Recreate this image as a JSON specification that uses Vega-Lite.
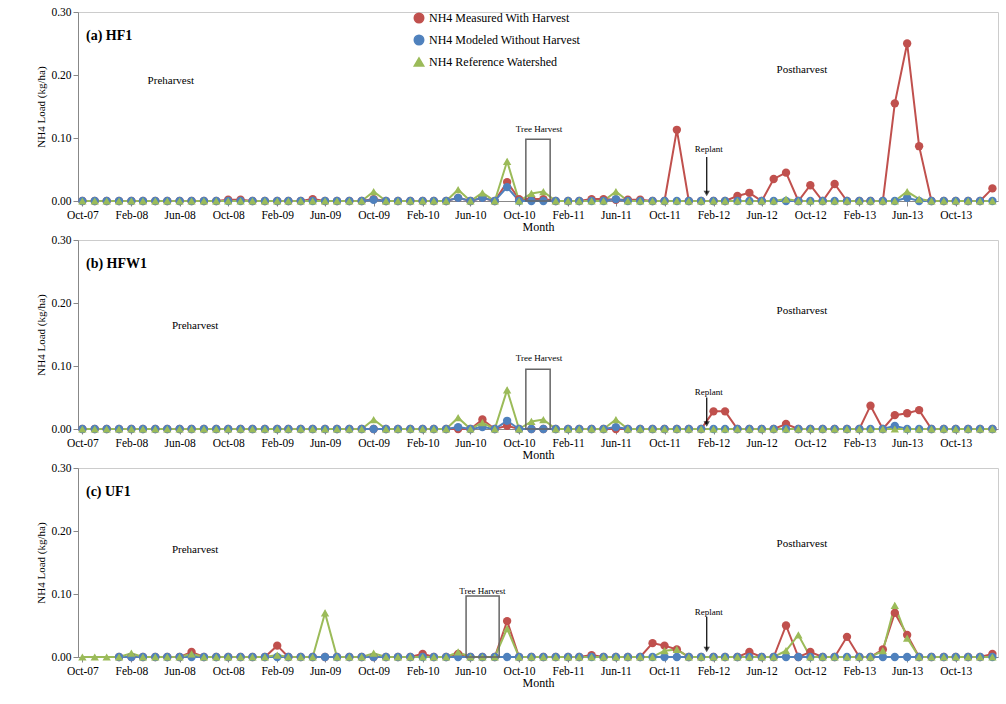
{"$schema":"https://vega.github.io/schema/vega-lite/v6.json","background":"white","padding":{"left":35,"top":5,"right":0,"bottom":0},"spacing":0,
"config":{"font":"Liberation Serif","axis":{"grid":false,"labelFont":"Liberation Serif","titleFont":"Liberation Serif","labelFontSize":11.5,"titleFontSize":12,"titleFontWeight":"normal","domainColor":"#888","tickColor":"#888","labelColor":"#000"},"view":{"stroke":"#ccc"},"legend":{"labelFont":"Liberation Serif","labelFontSize":12}},
"datasets":{
"a":[{"d":"2007-10","m":0,"n":0,"r":0},{"d":"2007-11","m":0,"n":0,"r":0},{"d":"2007-12","m":0,"n":0,"r":0},{"d":"2008-01","m":0,"n":0,"r":0},{"d":"2008-02","m":0,"n":0,"r":0},{"d":"2008-03","m":0,"n":0,"r":0},{"d":"2008-04","m":0,"n":0,"r":0},{"d":"2008-05","m":0,"n":0,"r":0},{"d":"2008-06","m":0,"n":0,"r":0},{"d":"2008-07","m":0,"n":0,"r":0},{"d":"2008-08","m":0,"n":0,"r":0},{"d":"2008-09","m":0,"n":0,"r":0},{"d":"2008-10","m":0.002,"n":0,"r":0},{"d":"2008-11","m":0.002,"n":0,"r":0},{"d":"2008-12","m":0,"n":0,"r":0},{"d":"2009-01","m":0,"n":0,"r":0},{"d":"2009-02","m":0,"n":0,"r":0},{"d":"2009-03","m":0,"n":0,"r":0},{"d":"2009-04","m":0,"n":0,"r":0},{"d":"2009-05","m":0.003,"n":0,"r":0},{"d":"2009-06","m":0,"n":0,"r":0},{"d":"2009-07","m":0,"n":0,"r":0},{"d":"2009-08","m":0,"n":0,"r":0},{"d":"2009-09","m":0,"n":0,"r":0},{"d":"2009-10","m":0.003,"n":0.002,"r":0.015},{"d":"2009-11","m":0,"n":0,"r":0},{"d":"2009-12","m":0,"n":0,"r":0},{"d":"2010-01","m":0,"n":0,"r":0},{"d":"2010-02","m":0,"n":0,"r":0},{"d":"2010-03","m":0,"n":0,"r":0},{"d":"2010-04","m":0,"n":0,"r":0},{"d":"2010-05","m":0.005,"n":0.005,"r":0.018},{"d":"2010-06","m":0,"n":0,"r":0},{"d":"2010-07","m":0.005,"n":0.005,"r":0.013},{"d":"2010-08","m":0,"n":0,"r":0},{"d":"2010-09","m":0.03,"n":0.022,"r":0.063},{"d":"2010-10","m":0.003,"n":0,"r":0},{"d":"2010-11","m":0.003,"n":0,"r":0.012},{"d":"2010-12","m":0.003,"n":0,"r":0.015},{"d":"2011-01","m":0,"n":0,"r":0},{"d":"2011-02","m":0,"n":0,"r":0},{"d":"2011-03","m":0,"n":0,"r":0},{"d":"2011-04","m":0.003,"n":0,"r":0},{"d":"2011-05","m":0.003,"n":0,"r":0},{"d":"2011-06","m":0.002,"n":0.003,"r":0.015},{"d":"2011-07","m":0.002,"n":0,"r":0},{"d":"2011-08","m":0.002,"n":0,"r":0},{"d":"2011-09","m":0,"n":0,"r":0},{"d":"2011-10","m":0,"n":0,"r":0},{"d":"2011-11","m":0.113,"n":0,"r":0},{"d":"2011-12","m":0,"n":0,"r":0},{"d":"2012-01","m":0,"n":0,"r":0},{"d":"2012-02","m":0,"n":0,"r":0},{"d":"2012-03","m":0,"n":0,"r":0},{"d":"2012-04","m":0.008,"n":0,"r":0},{"d":"2012-05","m":0.013,"n":0,"r":0},{"d":"2012-06","m":0,"n":0,"r":0},{"d":"2012-07","m":0.035,"n":0,"r":0},{"d":"2012-08","m":0.045,"n":0,"r":0.003},{"d":"2012-09","m":0,"n":0,"r":0},{"d":"2012-10","m":0.025,"n":0,"r":0},{"d":"2012-11","m":0,"n":0,"r":0},{"d":"2012-12","m":0.027,"n":0,"r":0},{"d":"2013-01","m":0,"n":0,"r":0},{"d":"2013-02","m":0,"n":0,"r":0},{"d":"2013-03","m":0,"n":0,"r":0},{"d":"2013-04","m":0,"n":0,"r":0},{"d":"2013-05","m":0.155,"n":0,"r":0},{"d":"2013-06","m":0.25,"n":0.005,"r":0.015},{"d":"2013-07","m":0.087,"n":0,"r":0.003},{"d":"2013-08","m":0,"n":0,"r":0},{"d":"2013-09","m":0,"n":0,"r":0},{"d":"2013-10","m":0,"n":0,"r":0},{"d":"2013-11","m":0,"n":0,"r":0},{"d":"2013-12","m":0,"n":0,"r":0},{"d":"2014-01","m":0.02,"n":0,"r":0}],
"b":[{"d":"2007-10","m":0,"n":0,"r":0},{"d":"2007-11","m":0,"n":0,"r":0},{"d":"2007-12","m":0,"n":0,"r":0},{"d":"2008-01","m":0,"n":0,"r":0},{"d":"2008-02","m":0,"n":0,"r":0},{"d":"2008-03","m":0,"n":0,"r":0},{"d":"2008-04","m":0,"n":0,"r":0},{"d":"2008-05","m":0,"n":0,"r":0},{"d":"2008-06","m":0,"n":0,"r":0},{"d":"2008-07","m":0,"n":0,"r":0},{"d":"2008-08","m":0,"n":0,"r":0},{"d":"2008-09","m":0,"n":0,"r":0},{"d":"2008-10","m":0,"n":0,"r":0},{"d":"2008-11","m":0,"n":0,"r":0},{"d":"2008-12","m":0,"n":0,"r":0},{"d":"2009-01","m":0,"n":0,"r":0},{"d":"2009-02","m":0,"n":0,"r":0},{"d":"2009-03","m":0,"n":0,"r":0},{"d":"2009-04","m":0,"n":0,"r":0},{"d":"2009-05","m":0,"n":0,"r":0},{"d":"2009-06","m":0,"n":0,"r":0},{"d":"2009-07","m":0,"n":0,"r":0},{"d":"2009-08","m":0,"n":0,"r":0},{"d":"2009-09","m":0,"n":0,"r":0},{"d":"2009-10","m":0,"n":0,"r":0.015},{"d":"2009-11","m":0,"n":0,"r":0},{"d":"2009-12","m":0,"n":0,"r":0},{"d":"2010-01","m":0,"n":0,"r":0},{"d":"2010-02","m":0,"n":0,"r":0},{"d":"2010-03","m":0,"n":0,"r":0},{"d":"2010-04","m":0,"n":0,"r":0},{"d":"2010-05","m":0,"n":0.003,"r":0.018},{"d":"2010-06","m":0,"n":0,"r":0},{"d":"2010-07","m":0.015,"n":0.003,"r":0.01},{"d":"2010-08","m":0,"n":0,"r":0},{"d":"2010-09","m":0.005,"n":0.013,"r":0.062},{"d":"2010-10","m":0,"n":0,"r":0},{"d":"2010-11","m":0,"n":0,"r":0.012},{"d":"2010-12","m":0,"n":0,"r":0.015},{"d":"2011-01","m":0,"n":0,"r":0},{"d":"2011-02","m":0,"n":0,"r":0},{"d":"2011-03","m":0,"n":0,"r":0},{"d":"2011-04","m":0,"n":0,"r":0},{"d":"2011-05","m":0,"n":0,"r":0},{"d":"2011-06","m":0,"n":0.003,"r":0.015},{"d":"2011-07","m":0,"n":0,"r":0},{"d":"2011-08","m":0,"n":0,"r":0},{"d":"2011-09","m":0,"n":0,"r":0},{"d":"2011-10","m":0,"n":0,"r":0},{"d":"2011-11","m":0,"n":0,"r":0},{"d":"2011-12","m":0,"n":0,"r":0},{"d":"2012-01","m":0,"n":0,"r":0},{"d":"2012-02","m":0.028,"n":0,"r":0},{"d":"2012-03","m":0.028,"n":0,"r":0},{"d":"2012-04","m":0,"n":0,"r":0},{"d":"2012-05","m":0,"n":0,"r":0},{"d":"2012-06","m":0,"n":0,"r":0},{"d":"2012-07","m":0,"n":0,"r":0},{"d":"2012-08","m":0.008,"n":0,"r":0},{"d":"2012-09","m":0,"n":0,"r":0},{"d":"2012-10","m":0,"n":0,"r":0},{"d":"2012-11","m":0,"n":0,"r":0},{"d":"2012-12","m":0,"n":0,"r":0},{"d":"2013-01","m":0,"n":0,"r":0},{"d":"2013-02","m":0,"n":0,"r":0},{"d":"2013-03","m":0.037,"n":0,"r":0},{"d":"2013-04","m":0,"n":0,"r":0},{"d":"2013-05","m":0.022,"n":0.005,"r":0},{"d":"2013-06","m":0.025,"n":0,"r":0},{"d":"2013-07","m":0.03,"n":0,"r":0},{"d":"2013-08","m":0,"n":0,"r":0},{"d":"2013-09","m":0,"n":0,"r":0},{"d":"2013-10","m":0,"n":0,"r":0},{"d":"2013-11","m":0,"n":0,"r":0},{"d":"2013-12","m":0,"n":0,"r":0},{"d":"2014-01","m":0,"n":0,"r":0}],
"c":[{"d":"2007-10","m":null,"n":null,"r":0},{"d":"2007-11","m":null,"n":null,"r":0},{"d":"2007-12","m":null,"n":null,"r":0},{"d":"2008-01","m":0,"n":0,"r":0},{"d":"2008-02","m":0,"n":0,"r":0.006},{"d":"2008-03","m":0,"n":0,"r":0},{"d":"2008-04","m":0,"n":0,"r":0},{"d":"2008-05","m":0,"n":0,"r":0},{"d":"2008-06","m":0,"n":0,"r":0},{"d":"2008-07","m":0.008,"n":0,"r":0.005},{"d":"2008-08","m":0,"n":0,"r":0},{"d":"2008-09","m":0,"n":0,"r":0},{"d":"2008-10","m":0,"n":0,"r":0},{"d":"2008-11","m":0,"n":0,"r":0},{"d":"2008-12","m":0,"n":0,"r":0},{"d":"2009-01","m":0,"n":0,"r":0},{"d":"2009-02","m":0.018,"n":0,"r":0.003},{"d":"2009-03","m":0,"n":0,"r":0},{"d":"2009-04","m":0,"n":0,"r":0},{"d":"2009-05","m":0,"n":0,"r":0},{"d":"2009-06","m":0,"n":0,"r":0.07},{"d":"2009-07","m":0,"n":0,"r":0},{"d":"2009-08","m":0,"n":0,"r":0},{"d":"2009-09","m":0,"n":0,"r":0},{"d":"2009-10","m":0,"n":0,"r":0.006},{"d":"2009-11","m":0,"n":0,"r":0},{"d":"2009-12","m":0,"n":0,"r":0},{"d":"2010-01","m":0,"n":0,"r":0},{"d":"2010-02","m":0.005,"n":0,"r":0},{"d":"2010-03","m":0,"n":0,"r":0},{"d":"2010-04","m":0,"n":0,"r":0},{"d":"2010-05","m":0.005,"n":0,"r":0.008},{"d":"2010-06","m":0,"n":0,"r":0},{"d":"2010-07","m":0,"n":0,"r":0},{"d":"2010-08","m":0,"n":0,"r":0},{"d":"2010-09","m":0.057,"n":0,"r":0.045},{"d":"2010-10","m":0,"n":0,"r":0},{"d":"2010-11","m":0,"n":0,"r":0},{"d":"2010-12","m":0,"n":0,"r":0},{"d":"2011-01","m":0,"n":0,"r":0},{"d":"2011-02","m":0,"n":0,"r":0},{"d":"2011-03","m":0,"n":0,"r":0},{"d":"2011-04","m":0.003,"n":0,"r":0},{"d":"2011-05","m":0,"n":0,"r":0},{"d":"2011-06","m":0,"n":0,"r":0},{"d":"2011-07","m":0,"n":0,"r":0},{"d":"2011-08","m":0,"n":0,"r":0},{"d":"2011-09","m":0.022,"n":0,"r":0},{"d":"2011-10","m":0.018,"n":0,"r":0.01},{"d":"2011-11","m":0.012,"n":0,"r":0.012},{"d":"2011-12","m":0,"n":0,"r":0},{"d":"2012-01","m":0,"n":0,"r":0},{"d":"2012-02","m":0,"n":0,"r":0},{"d":"2012-03","m":0,"n":0,"r":0},{"d":"2012-04","m":0,"n":0,"r":0},{"d":"2012-05","m":0.008,"n":0,"r":0},{"d":"2012-06","m":0,"n":0,"r":0},{"d":"2012-07","m":0,"n":0,"r":0},{"d":"2012-08","m":0.05,"n":0,"r":0.01},{"d":"2012-09","m":0,"n":0,"r":0.035},{"d":"2012-10","m":0.008,"n":0,"r":0},{"d":"2012-11","m":0,"n":0,"r":0},{"d":"2012-12","m":0,"n":0,"r":0},{"d":"2013-01","m":0.032,"n":0,"r":0},{"d":"2013-02","m":0,"n":0,"r":0},{"d":"2013-03","m":0,"n":0,"r":0},{"d":"2013-04","m":0.012,"n":0,"r":0.01},{"d":"2013-05","m":0.07,"n":0,"r":0.082},{"d":"2013-06","m":0.035,"n":0,"r":0.03},{"d":"2013-07","m":0,"n":0,"r":0},{"d":"2013-08","m":0,"n":0,"r":0},{"d":"2013-09","m":0,"n":0,"r":0},{"d":"2013-10","m":0,"n":0,"r":0},{"d":"2013-11","m":0,"n":0,"r":0},{"d":"2013-12","m":0,"n":0,"r":0},{"d":"2014-01","m":0.005,"n":0,"r":0}],
"ta":[{"d":"2007-10-10","v":0.262,"t":"(a) HF1","b":"bold","s":14},{"d":"2008-05-10","v":0.19,"t":"Preharvest","b":"normal","s":11},{"d":"2012-09-10","v":0.208,"t":"Postharvest","b":"normal","s":11},{"d":"2010-11-20","v":0.115,"t":"Tree Harvest","b":"normal","s":9},{"d":"2012-01-20","v":0.082,"t":"Replant","b":"normal","s":9}],
"tb":[{"d":"2008-07-10","v":0.163,"t":"Preharvest","b":"normal","s":11},{"d":"2012-09-10","v":0.188,"t":"Postharvest","b":"normal","s":11},{"d":"2010-11-20","v":0.112,"t":"Tree Harvest","b":"normal","s":9},{"d":"2012-01-20","v":0.059,"t":"Replant","b":"normal","s":9},{"d":"2007-10-10","v":0.262,"t":"(b) HFW1","b":"bold","s":14}],
"tc":[{"d":"2008-07-10","v":0.17,"t":"Preharvest","b":"normal","s":11},{"d":"2012-09-10","v":0.18,"t":"Postharvest","b":"normal","s":11},{"d":"2010-07-01","v":0.105,"t":"Tree Harvest","b":"normal","s":9},{"d":"2012-01-20","v":0.072,"t":"Replant","b":"normal","s":9},{"d":"2007-10-10","v":0.262,"t":"(c) UF1","b":"bold","s":14}],
"ba":[{"x":"2010-10-18","x2":"2010-12-18","v0":0,"v":0.098,"ar":"2012-01-15","a1":0.07,"a2":0.012}],
"bb":[{"x":"2010-10-18","x2":"2010-12-18","v0":0,"v":0.095,"ar":"2012-01-15","a1":0.05,"a2":0.008}],
"bc":[{"x":"2010-05-21","x2":"2010-08-12","v0":0,"v":0.097,"ar":"2012-01-15","a1":0.064,"a2":0.012}]
},
"vconcat":[
{"width":920,"height":189,"layer":[
{"data":{"name":"a"},"transform":[{"fold":["m","n","r"]}],"mark":{"type":"line","strokeWidth":2},"encoding":{"x":{"field":"d","type":"temporal","timeUnit":"utcyearmonth","scale":{"type":"utc","domain":["2007-09-20","2014-01-15"]},"axis":{"values":["2007-10-01","2008-02-01","2008-06-01","2008-10-01","2009-02-01","2009-06-01","2009-10-01","2010-02-01","2010-06-01","2010-10-01","2011-02-01","2011-06-01","2011-10-01","2012-02-01","2012-06-01","2012-10-01","2013-02-01","2013-06-01","2013-10-01"],"labelExpr":"utcFormat(datum.value,'%b-%y')","title":"Month","titlePadding":1,"labelPadding":3}},"y":{"field":"value","type":"quantitative","scale":{"domain":[0,0.3]},"axis":{"values":[0,0.05,0.1,0.15,0.2,0.25,0.3],"format":".2f","title":"NH4 Load (kg/ha)","titleFontSize":11}},"color":{"field":"key","type":"nominal","scale":{"domain":["m","n","r"],"range":["#c0504d","#4f81bd","#9bbb59"]},"legend":{"orient":"none","legendX":335,"legendY":0,"title":null,"labelExpr":"datum.label=='m'?'NH4 Measured With Harvest':datum.label=='n'?'NH4 Modeled Without Harvest':'NH4 Reference Watershed'","symbolSize":90,"rowPadding":6}},"shape":{"field":"key","type":"nominal","scale":{"domain":["m","n","r"],"range":["circle","circle","triangle-up"]}}}},
{"data":{"name":"a"},"transform":[{"fold":["m","n","r"]}],"mark":{"type":"point","filled":true,"size":70,"opacity":1},"encoding":{"x":{"field":"d","type":"temporal","timeUnit":"utcyearmonth"},"y":{"field":"value","type":"quantitative"},"color":{"field":"key","type":"nominal"},"shape":{"field":"key","type":"nominal"}}},
{"data":{"name":"ba"},"mark":{"type":"rect","fill":null,"stroke":"#666","strokeWidth":1.5},"encoding":{"x":{"field":"x","type":"temporal","scale":{"type":"utc"}},"x2":{"field":"x2"},"y":{"field":"v0","type":"quantitative"},"y2":{"field":"v"}}},
{"data":{"name":"ba"},"mark":{"type":"rule","color":"black","strokeWidth":1.2},"encoding":{"x":{"field":"ar","type":"temporal","scale":{"type":"utc"}},"y":{"field":"a1","type":"quantitative"},"y2":{"field":"a2"}}},
{"data":{"name":"ba"},"mark":{"type":"point","shape":"triangle-down","filled":true,"color":"black","size":40},"encoding":{"x":{"field":"ar","type":"temporal","scale":{"type":"utc"}},"y":{"field":"a2","type":"quantitative"}}},
{"data":{"name":"ta"},"transform":[{"filter":{"field":"b","equal":"normal"}}],"mark":{"type":"text","align":"center","font":"Liberation Serif"},"encoding":{"x":{"field":"d","type":"temporal","scale":{"type":"utc"}},"y":{"field":"v","type":"quantitative"},"text":{"field":"t"},"size":{"field":"s","type":"quantitative","scale":null}}},
{"data":{"name":"ta"},"transform":[{"filter":{"field":"b","equal":"bold"}}],"mark":{"type":"text","align":"left","font":"Liberation Serif","fontWeight":"bold","fontSize":14},"encoding":{"x":{"field":"d","type":"temporal","scale":{"type":"utc"}},"y":{"field":"v","type":"quantitative"},"text":{"field":"t"}}}
]},
{"width":920,"height":189,"layer":[
{"data":{"name":"b"},"transform":[{"fold":["m","n","r"]}],"mark":{"type":"line","strokeWidth":2},"encoding":{"x":{"field":"d","type":"temporal","timeUnit":"utcyearmonth","scale":{"type":"utc","domain":["2007-09-20","2014-01-15"]},"axis":{"values":["2007-10-01","2008-02-01","2008-06-01","2008-10-01","2009-02-01","2009-06-01","2009-10-01","2010-02-01","2010-06-01","2010-10-01","2011-02-01","2011-06-01","2011-10-01","2012-02-01","2012-06-01","2012-10-01","2013-02-01","2013-06-01","2013-10-01"],"labelExpr":"utcFormat(datum.value,'%b-%y')","title":"Month","titlePadding":1,"labelPadding":3}},"y":{"field":"value","type":"quantitative","scale":{"domain":[0,0.3]},"axis":{"values":[0,0.05,0.1,0.15,0.2,0.25,0.3],"format":".2f","title":"NH4 Load (kg/ha)","titleFontSize":11}},"color":{"field":"key","type":"nominal"},"shape":{"field":"key","type":"nominal"}}},
{"data":{"name":"b"},"transform":[{"fold":["m","n","r"]}],"mark":{"type":"point","filled":true,"size":70,"opacity":1},"encoding":{"x":{"field":"d","type":"temporal","timeUnit":"utcyearmonth"},"y":{"field":"value","type":"quantitative"},"color":{"field":"key","type":"nominal"},"shape":{"field":"key","type":"nominal"}}},
{"data":{"name":"bb"},"mark":{"type":"rect","fill":null,"stroke":"#666","strokeWidth":1.5},"encoding":{"x":{"field":"x","type":"temporal","scale":{"type":"utc"}},"x2":{"field":"x2"},"y":{"field":"v0","type":"quantitative"},"y2":{"field":"v"}}},
{"data":{"name":"bb"},"mark":{"type":"rule","color":"black","strokeWidth":1.2},"encoding":{"x":{"field":"ar","type":"temporal","scale":{"type":"utc"}},"y":{"field":"a1","type":"quantitative"},"y2":{"field":"a2"}}},
{"data":{"name":"bb"},"mark":{"type":"point","shape":"triangle-down","filled":true,"color":"black","size":40},"encoding":{"x":{"field":"ar","type":"temporal","scale":{"type":"utc"}},"y":{"field":"a2","type":"quantitative"}}},
{"data":{"name":"tb"},"transform":[{"filter":{"field":"b","equal":"normal"}}],"mark":{"type":"text","align":"center","font":"Liberation Serif"},"encoding":{"x":{"field":"d","type":"temporal","scale":{"type":"utc"}},"y":{"field":"v","type":"quantitative"},"text":{"field":"t"},"size":{"field":"s","type":"quantitative","scale":null}}},
{"data":{"name":"tb"},"transform":[{"filter":{"field":"b","equal":"bold"}}],"mark":{"type":"text","align":"left","font":"Liberation Serif","fontWeight":"bold","fontSize":14},"encoding":{"x":{"field":"d","type":"temporal","scale":{"type":"utc"}},"y":{"field":"v","type":"quantitative"},"text":{"field":"t"}}}
]},
{"width":920,"height":189,"layer":[
{"data":{"name":"c"},"transform":[{"fold":["m","n","r"]}],"mark":{"type":"line","strokeWidth":2},"encoding":{"x":{"field":"d","type":"temporal","timeUnit":"utcyearmonth","scale":{"type":"utc","domain":["2007-09-20","2014-01-15"]},"axis":{"values":["2007-10-01","2008-02-01","2008-06-01","2008-10-01","2009-02-01","2009-06-01","2009-10-01","2010-02-01","2010-06-01","2010-10-01","2011-02-01","2011-06-01","2011-10-01","2012-02-01","2012-06-01","2012-10-01","2013-02-01","2013-06-01","2013-10-01"],"labelExpr":"utcFormat(datum.value,'%b-%y')","title":"Month","titlePadding":1,"labelPadding":3}},"y":{"field":"value","type":"quantitative","scale":{"domain":[0,0.3]},"axis":{"values":[0,0.05,0.1,0.15,0.2,0.25,0.3],"format":".2f","title":"NH4 Load (kg/ha)","titleFontSize":11}},"color":{"field":"key","type":"nominal"},"shape":{"field":"key","type":"nominal"}}},
{"data":{"name":"c"},"transform":[{"fold":["m","n","r"]}],"mark":{"type":"point","filled":true,"size":70,"opacity":1},"encoding":{"x":{"field":"d","type":"temporal","timeUnit":"utcyearmonth"},"y":{"field":"value","type":"quantitative"},"color":{"field":"key","type":"nominal"},"shape":{"field":"key","type":"nominal"}}},
{"data":{"name":"bc"},"mark":{"type":"rect","fill":null,"stroke":"#666","strokeWidth":1.5},"encoding":{"x":{"field":"x","type":"temporal","scale":{"type":"utc"}},"x2":{"field":"x2"},"y":{"field":"v0","type":"quantitative"},"y2":{"field":"v"}}},
{"data":{"name":"bc"},"mark":{"type":"rule","color":"black","strokeWidth":1.2},"encoding":{"x":{"field":"ar","type":"temporal","scale":{"type":"utc"}},"y":{"field":"a1","type":"quantitative"},"y2":{"field":"a2"}}},
{"data":{"name":"bc"},"mark":{"type":"point","shape":"triangle-down","filled":true,"color":"black","size":40},"encoding":{"x":{"field":"ar","type":"temporal","scale":{"type":"utc"}},"y":{"field":"a2","type":"quantitative"}}},
{"data":{"name":"tc"},"transform":[{"filter":{"field":"b","equal":"normal"}}],"mark":{"type":"text","align":"center","font":"Liberation Serif"},"encoding":{"x":{"field":"d","type":"temporal","scale":{"type":"utc"}},"y":{"field":"v","type":"quantitative"},"text":{"field":"t"},"size":{"field":"s","type":"quantitative","scale":null}}},
{"data":{"name":"tc"},"transform":[{"filter":{"field":"b","equal":"bold"}}],"mark":{"type":"text","align":"left","font":"Liberation Serif","fontWeight":"bold","fontSize":14},"encoding":{"x":{"field":"d","type":"temporal","scale":{"type":"utc"}},"y":{"field":"v","type":"quantitative"},"text":{"field":"t"}}}
]}
]}
